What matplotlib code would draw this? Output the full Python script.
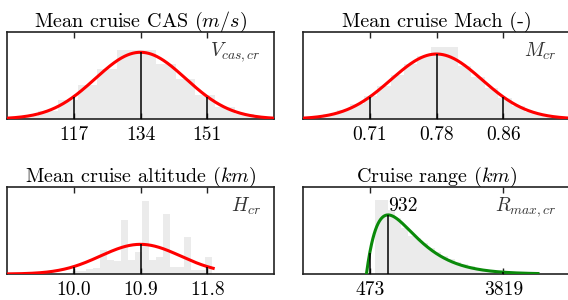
import numpy as np
import matplotlib
matplotlib.use('Agg')
import matplotlib.pyplot as plt

plt.rcParams['font.family'] = 'serif'
plt.rcParams['font.serif'] = ['cmr10']
plt.rcParams['mathtext.fontset'] = 'cm'
plt.rcParams['axes.unicode_minus'] = False

## Data (histogram heights on a 0-100 scale)
cas_ticks = [117, 134, 151]
cas_labels = ['117', '134', '151']
cas_bin_start, cas_bin_width = 98, 5
cas_counts = [1, 3, 9, 22, 39, 58, 79, 79, 63, 46, 28, 14, 6, 2]
cas_mean, cas_std, cas_peak = 134, 11.5, 76.7

mach_ticks = [0.712, 0.784, 0.856]
mach_labels = ['0.71', '0.78', '0.86']
mach_bin_start, mach_bin_width = 0.6475, 0.0145
mach_counts = [3, 6, 10, 17, 26, 38, 51, 63, 72, 83, 83, 61, 48, 36, 24, 15, 8, 5, 2, 1]
mach_mean, mach_std, mach_peak = 0.784, 0.049, 74.7

alt_ticks = [10.0, 10.9, 11.8]
alt_labels = ['10.0', '10.9', '11.8']
alt_bin_start, alt_bin_width = 9.97, 0.0945
alt_counts = [3, 3, 6, 7, 28, 16, 15, 62, 16, 25, 84, 16, 20, 69, 8, 8, 42, 5, 5, 20]
alt_mean, alt_std, alt_peak = 10.9, 0.54, 34.1
alt_curve_end = 11.88

rng_ticks = [473, 3819]
rng_labels = ['473', '3819']
rng_mode = 932
rng_bin_start, rng_bin_width = 598, 167
rng_counts = [85, 85, 74, 64, 53, 44, 41, 36, 30, 25, 21, 17, 14, 12, 9, 7, 6, 5, 3, 3, 2, 2, 1, 1]
rng_shift, rng_scale, rng_peak = 390, 542, 67.9
rng_curve_end = 4690


def normal_curve(x, m, s, peak):
    return peak * np.exp(-(x - m)**2 / (2 * s**2))

def gamma2_curve(x, x0, th, peak):
    y = np.clip(x - x0, 0, None) / th
    return peak * y * np.exp(1 - y)


def setup_panel(ax, title, symbol, ticks, labels, start, width, counts):
    edges = start + width * np.arange(len(counts) + 1)
    ax.stairs(counts, edges, fill=True, color='#ebebeb', linewidth=0, zorder=1)
    lo, hi = ticks[0], ticks[-1]
    ax.set_xlim(lo - (hi - lo) / 2, hi + (hi - lo) / 2)
    ax.set_ylim(0, 100)
    ax.set_yticks([])
    ax.set_xticks(ticks)
    ax.set_xticklabels(labels, fontsize=14)
    ax.tick_params(axis='x', direction='in', length=4, width=1, top=True,
                   bottom=True, pad=5, color='#222222')
    for sp in ax.spines.values():
        sp.set_linewidth(1.2)
        sp.set_color('#222222')
    ax.set_title(title, fontsize=14.5, pad=4)
    ax.text(0.95, 0.90, symbol, transform=ax.transAxes, ha='right', va='top',
            fontsize=14, color='#333333')


fig = plt.figure(figsize=(5.68, 3.0), dpi=100)
axW, axH = 267 / 568., 87 / 300.
ax1 = fig.add_axes([7 / 568., 181 / 300., axW, axH])
ax2 = fig.add_axes([303 / 568., 181 / 300., axW, axH])
ax3 = fig.add_axes([7 / 568., 26 / 300., axW, axH])
ax4 = fig.add_axes([303 / 568., 26 / 300., axW, axH])

# CAS
setup_panel(ax1, 'Mean cruise CAS $(m/s)$', '$V_{cas,cr}$', cas_ticks, cas_labels,
            cas_bin_start, cas_bin_width, cas_counts)
x = np.linspace(*ax1.get_xlim(), 400)
ax1.plot(x, normal_curve(x, cas_mean, cas_std, cas_peak), color='red', lw=2.2, zorder=3)
ax1.vlines(cas_ticks, 0, normal_curve(np.array(cas_ticks), cas_mean, cas_std, cas_peak),
           color='k', lw=1.1, zorder=4)

# Mach
setup_panel(ax2, 'Mean cruise Mach (-)', '$M_{cr}$', mach_ticks, mach_labels,
            mach_bin_start, mach_bin_width, mach_counts)
x = np.linspace(*ax2.get_xlim(), 400)
ax2.plot(x, normal_curve(x, mach_mean, mach_std, mach_peak), color='red', lw=2.2, zorder=3)
ax2.vlines(mach_ticks, 0, normal_curve(np.array(mach_ticks), mach_mean, mach_std, mach_peak),
           color='k', lw=1.1, zorder=4)

# Altitude
setup_panel(ax3, 'Mean cruise altitude $(km)$', '$H_{cr}$', alt_ticks, alt_labels,
            alt_bin_start, alt_bin_width, alt_counts)
x = np.linspace(ax3.get_xlim()[0], alt_curve_end, 400)
ax3.plot(x, normal_curve(x, alt_mean, alt_std, alt_peak), color='red', lw=2.2, zorder=3)
ax3.vlines(alt_ticks, 0, normal_curve(np.array(alt_ticks), alt_mean, alt_std, alt_peak),
           color='k', lw=1.1, zorder=4)

# Range
setup_panel(ax4, 'Cruise range $(km)$', '$R_{max,cr}$', rng_ticks, rng_labels,
            rng_bin_start, rng_bin_width, rng_counts)
x = np.linspace(rng_shift, rng_curve_end, 400)
ax4.plot(x, gamma2_curve(x, rng_shift, rng_scale, rng_peak), color='#0a8a0a', lw=2.2, zorder=3)
vx = np.array(rng_ticks + [rng_mode])
ax4.vlines(vx, 0, gamma2_curve(vx, rng_shift, rng_scale, rng_peak), color='k', lw=1.1, zorder=4)
ax4.text(rng_mode, rng_peak, '%d' % rng_mode, ha='left', va='bottom', fontsize=14, zorder=5)

fig.savefig('out.png', dpi=100)
